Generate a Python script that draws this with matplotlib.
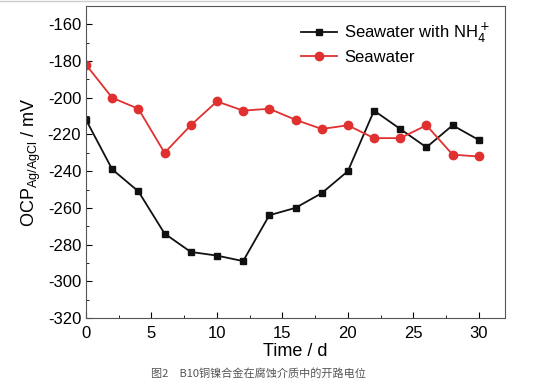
import matplotlib.pyplot as plt
from matplotlib.ticker import MultipleLocator

# Datos
days = [0, 2, 4, 6, 8, 10, 12, 14, 16, 18, 20, 22, 24, 26, 28, 30]
ocp_nh4 = [-212, -239, -251, -274, -284, -286, -289, -264, -260, -252, -240, -207, -217, -227, -215, -223]
ocp_sea = [-182, -200, -206, -230, -215, -202, -207, -206, -212, -217, -215, -222, -222, -215, -231, -232]

plt.rcParams['font.family'] = ['Liberation Sans', 'Noto Sans CJK SC', 'DejaVu Sans']
plt.rcParams['axes.unicode_minus'] = False

fig = plt.figure(figsize=(5.52, 3.86), dpi=100)
ax = fig.add_axes([86 / 552, 1 - 318 / 386, (505 - 86) / 552, (318 - 6) / 386])

ax.plot(days, ocp_nh4, color='#111111', marker='s', markersize=5, lw=1.3,
        label='Seawater with NH$_4^+$')
ax.plot(days, ocp_sea, color='#e03030', marker='o', markersize=6, lw=1.3,
        label='Seawater')

ax.set_xlim(0, 32)
ax.set_ylim(-320, -150)
ax.xaxis.set_major_locator(MultipleLocator(5))
ax.xaxis.set_minor_locator(MultipleLocator(2.5))
ax.yaxis.set_major_locator(MultipleLocator(20))
ax.yaxis.set_minor_locator(MultipleLocator(10))
ax.tick_params(which='both', direction='in', top=False, right=False, labelsize=12)
ax.tick_params(which='major', length=4)
ax.tick_params(which='minor', length=2.5)
ax.tick_params(axis='x', pad=6)
for s in ax.spines.values():
    s.set_color('#555555')

ax.set_xlabel('Time / d', fontsize=13, labelpad=1)
ax.set_ylabel('OCP$_{\\mathregular{Ag/AgCl}}$ / mV', fontsize=13, labelpad=3)

ax.legend(loc='upper right', frameon=False, fontsize=12, handlelength=2.2,
          borderaxespad=0.5, labelspacing=0.3, handletextpad=0.4)

fig.text(151 / 552, 1 - 373 / 386, '图2　B10铜镍合金在腐蚀介质中的开路电位',
         fontsize=8, color='#555555', va='center',
         family=['Noto Sans CJK SC', 'DejaVu Sans'])

fig.add_artist(plt.Line2D([0, 479 / 552], [0.998, 0.998], color='#cccccc', lw=1))

fig.savefig('out.png', dpi=100)
